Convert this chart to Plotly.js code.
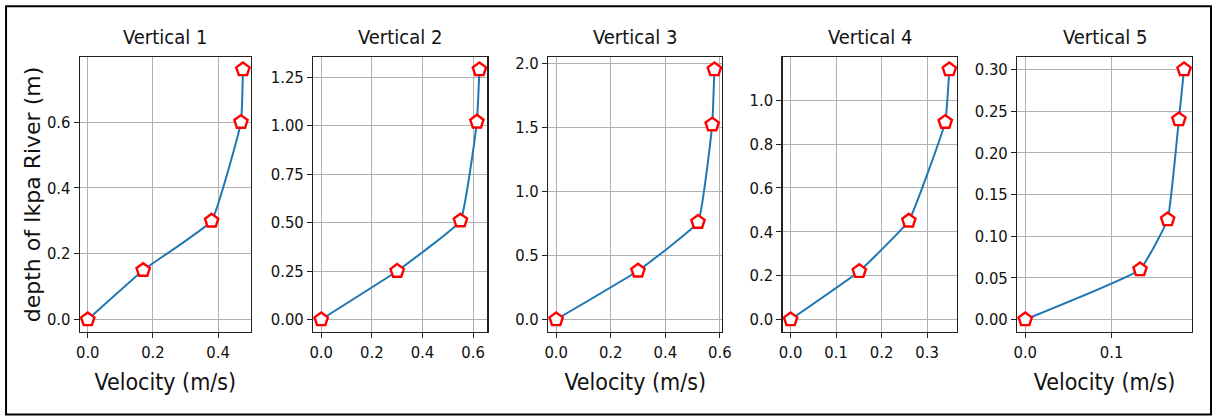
<!DOCTYPE html>
<html>
<head>
<meta charset="utf-8">
<script src="https://cdn.plot.ly/plotly-3.0.1.min.js"></script>
<style>
html,body{margin:0;padding:0;background:#fff;}
#chart{width:1215px;height:418px;}
</style>
</head>
<body>
<div id="chart"></div>
<script>
// Data
const panelTitles = ["Vertical 1", "Vertical 2", "Vertical 3", "Vertical 4", "Vertical 5"];
const vel1 = [0, 0.17, 0.38, 0.47, 0.476];
const depth1 = [0, 0.15, 0.30, 0.60, 0.76];
const vel2 = [0, 0.30, 0.55, 0.615, 0.625];
const depth2 = [0, 0.25, 0.51, 1.02, 1.29];
const vel3 = [0, 0.30, 0.52, 0.572, 0.58];
const depth3 = [0, 0.38, 0.76, 1.52, 1.95];
const vel4 = [0, 0.151, 0.26, 0.34, 0.349];
const depth4 = [0, 0.22, 0.45, 0.90, 1.14];
const vel5 = [0, 0.133, 0.165, 0.178, 0.184];
const depth5 = [0, 0.06, 0.12, 0.24, 0.30];
const xTitle = "Velocity (m/s)";
const yTitle = "depth of Ikpa River (m)";

const velocities = [vel1, vel2, vel3, vel4, vel5];
const depths = [depth1, depth2, depth3, depth4, depth5];

const domains = [[0, 0.1535], [0.2098, 0.3663], [0.4211, 0.5776], [0.6319, 0.7889], [0.8429, 1]];
const xd = [0.2, 0.2, 0.2, 0.1, 0.1];
const yd = [0.2, 0.25, 0.5, 0.2, 0.05];
const yfmt = [".1f", ".2f", ".1f", ".1f", ".2f"];
const showXTitle = [true, false, true, false, true];

const cond = "DejaVu Sans Condensed, Liberation Sans Narrow, DejaVu Sans, sans-serif";
const tickFont = {family: cond, size: 16.5, color: "#111"};
const titleFont = {family: cond, size: 20, color: "#111"};
const xTitleFont = {family: cond, size: 23, color: "#111"};

function range(arr) {
  const mn = Math.min(...arr), mx = Math.max(...arr);
  const m = (mx - mn) * 0.05;
  return [mn - m, mx + m];
}

const traces = [];
const layout = {
  width: 1215, height: 418,
  margin: {l: 80, r: 23, t: 57, b: 86},
  paper_bgcolor: "#fff", plot_bgcolor: "#fff",
  showlegend: false,
  annotations: [],
  shapes: [{
    type: "rect", xref: "paper", yref: "paper",
    x0: -0.0665, x1: 1.0171, y0: -0.3, y1: 1.185,
    line: {color: "#000", width: 2}, fillcolor: "rgba(0,0,0,0)", layer: "above"
  }]
};

for (let i = 0; i < 5; i++) {
  const sfx = i === 0 ? "" : String(i + 1);
  traces.push({
    type: "scatter", mode: "lines+markers",
    x: velocities[i], y: depths[i],
    xaxis: "x" + sfx, yaxis: "y" + sfx,
    line: {color: "#1f77b4", width: 2, shape: "spline", smoothing: 0.3},
    marker: {symbol: "pentagon", size: 14, color: "#fff", line: {color: "#ff0000", width: 2.4}},
    cliponaxis: false
  });
  const common = {
    showline: true, mirror: true, linecolor: "#222", linewidth: 1.2,
    showgrid: true, gridcolor: "#b0b0b0", gridwidth: 1,
    zeroline: false, ticks: "outside", ticklen: 5, tickcolor: "#222", tickwidth: 1,
    tickfont: tickFont, fixedrange: true
  };
  layout["xaxis" + sfx] = Object.assign({}, common, {
    domain: domains[i], anchor: "y" + sfx,
    range: range(velocities[i]), dtick: xd[i], tick0: 0, tickformat: ".1f",
    title: showXTitle[i] ? {text: xTitle, font: xTitleFont, standoff: 12} : {text: ""}
  });
  layout["yaxis" + sfx] = Object.assign({}, common, {
    domain: [0, 1], anchor: "x" + sfx,
    range: range(depths[i]), dtick: yd[i], tick0: 0, tickformat: yfmt[i],
    title: i === 0 ? {text: yTitle, font: {family: "DejaVu Sans, sans-serif", size: 22, color: "#111"}, standoff: 0} : {text: ""}
  });
  layout.annotations.push({
    text: panelTitles[i], xref: "paper", yref: "paper",
    x: (domains[i][0] + domains[i][1]) / 2, y: 1.073,
    xanchor: "center", yanchor: "middle", showarrow: false, font: titleFont
  });
}

Plotly.newPlot("chart", traces, layout, {displayModeBar: false, staticPlot: true});
</script>
</body>
</html>
